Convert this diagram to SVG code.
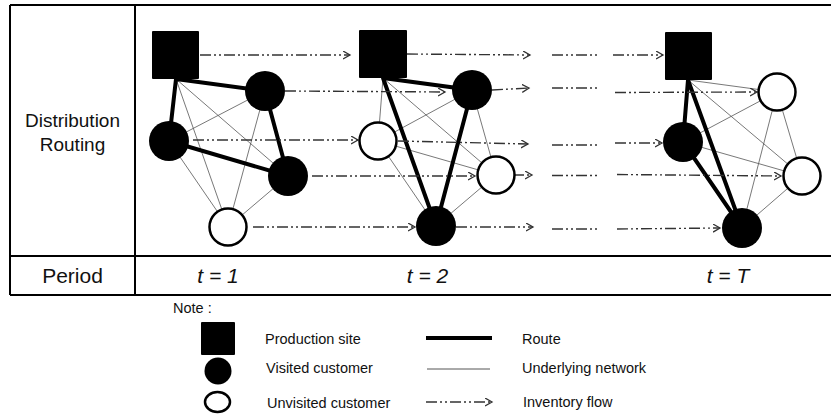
<svg xmlns="http://www.w3.org/2000/svg" width="831" height="418" viewBox="0 0 831 418">
<defs>
<style>
.frame{stroke:#000;stroke-width:2;fill:none}
.lbl{font-family:"Liberation Sans",Arial,sans-serif;fill:#111}
.hdr{font-size:19px;text-anchor:middle}
.per{font-size:21px;text-anchor:middle}
.it{font-size:21px;font-style:italic;text-anchor:middle}
.leg{font-size:14.5px}
.site{fill:#000}
.vis{fill:#000}
.unv{fill:#fff;stroke:#000;stroke-width:2.5}
.route{stroke:#000;stroke-width:4;stroke-linecap:round;fill:none}
.net{stroke:#555;stroke-width:0.8;fill:none}
.flow{stroke:#333;stroke-width:1.4;stroke-dasharray:11 3 2 3 2 3;fill:none}
.flowA{stroke:#333;stroke-width:1.4;stroke-dasharray:11 3 2 3 2 3;fill:none;marker-end:url(#arr)}
</style>
<marker id="arr" markerWidth="10" markerHeight="10" refX="7" refY="4" orient="auto" markerUnits="userSpaceOnUse">
<path d="M0,0 L7,4 L0,8" fill="none" stroke="#333" stroke-width="1.3" stroke-dasharray="none"/>
</marker>
</defs>
<rect width="831" height="418" fill="#fff"/>

<g id="table">
<path class="frame" d="M10,5 H831 M10,256 H831 M10,295 H831 M10,5 V295 M135,5 V295"/>
<text class="lbl hdr" x="72.5" y="127">Distribution</text>
<text class="lbl hdr" x="72.5" y="151">Routing</text>
<text class="lbl per" x="72.5" y="283">Period</text>
<text class="lbl it" x="218" y="283">t = 1</text>
<text class="lbl it" x="427.5" y="283">t = 2</text>
<text class="lbl it" x="728" y="283">t = T</text>
</g>

<g id="connectors">
<g id="network">
<!-- t=1 -->
<line class="net" x1="176" y1="79" x2="288" y2="176"/>
<line class="net" x1="176" y1="79" x2="228" y2="227"/>
<line class="net" x1="169" y1="141" x2="265" y2="91"/>
<line class="net" x1="169" y1="141" x2="228" y2="227"/>
<line class="net" x1="265" y1="91" x2="228" y2="227"/>
<line class="net" x1="288" y1="176" x2="228" y2="227"/>
<!-- t=2 -->
<line class="net" x1="383" y1="78" x2="378" y2="141"/>
<line class="net" x1="383" y1="78" x2="496" y2="175"/>
<line class="net" x1="378" y1="141" x2="472" y2="90"/>
<line class="net" x1="378" y1="141" x2="496" y2="175"/>
<line class="net" x1="378" y1="141" x2="436" y2="226"/>
<line class="net" x1="472" y1="90" x2="496" y2="175"/>
<line class="net" x1="496" y1="175" x2="436" y2="226"/>
<!-- t=T -->
<line class="net" x1="688" y1="80" x2="777" y2="92"/>
<line class="net" x1="688" y1="80" x2="802" y2="176"/>
<line class="net" x1="683" y1="142" x2="777" y2="92"/>
<line class="net" x1="683" y1="142" x2="802" y2="176"/>
<line class="net" x1="777" y1="92" x2="742" y2="228"/>
<line class="net" x1="777" y1="92" x2="802" y2="176"/>
<line class="net" x1="802" y1="176" x2="742" y2="228"/>
</g>
<g id="routes">
<polyline class="route" points="176,79 169,141 288,176 265,91 176,79"/>
<polyline class="route" points="383,78 436,226 472,90 383,78"/>
<polyline class="route" points="688,80 683,142 742,228 688,80"/>
</g>
<g id="flows">
<!-- t=1 to t=2 -->
<line class="flowA" x1="200" y1="55" x2="350" y2="55"/>
<line class="flowA" x1="285" y1="91" x2="445" y2="92"/>
<line class="flowA" x1="193" y1="140" x2="358" y2="140"/>
<line class="flowA" x1="312" y1="176" x2="475" y2="176"/>
<line class="flowA" x1="253" y1="227" x2="415" y2="227"/>
<!-- t=2 onward -->
<line class="flowA" x1="407" y1="54" x2="530" y2="55"/>
<line class="flowA" x1="492" y1="90" x2="529" y2="88"/>
<line class="flowA" x1="398" y1="141" x2="528" y2="144"/>
<line class="flowA" x1="513" y1="175" x2="532" y2="175"/>
<line class="flowA" x1="456" y1="227" x2="533" y2="227"/>
<!-- gap segments -->
<line class="flow" x1="552" y1="55" x2="598" y2="55"/>
<line class="flow" x1="552" y1="88" x2="598" y2="88"/>
<line class="flow" x1="552" y1="145" x2="598" y2="145"/>
<line class="flow" x1="552" y1="175.5" x2="598" y2="175.5"/>
<line class="flow" x1="552" y1="229" x2="598" y2="229"/>
<!-- into t=T -->
<line class="flowA" x1="613" y1="55" x2="663" y2="55"/>
<line class="flowA" x1="615" y1="92.5" x2="757" y2="92"/>
<line class="flowA" x1="615" y1="143" x2="662" y2="143"/>
<line class="flowA" x1="617" y1="174.5" x2="781" y2="176"/>
<line class="flowA" x1="617" y1="229" x2="720" y2="228"/>
</g>
</g>

<g id="t1-site"><rect class="site" x="152" y="31" width="47" height="48" rx="1"/></g>
<g id="t1-c1"><circle class="vis" cx="265" cy="91" r="20"/></g>
<g id="t1-c2"><circle class="vis" cx="169" cy="141" r="20"/></g>
<g id="t1-c3"><circle class="vis" cx="288" cy="176" r="20"/></g>
<g id="t1-c4"><circle class="unv" cx="228" cy="227" r="18.5"/></g>

<g id="t2-site"><rect class="site" x="359" y="30" width="48" height="48" rx="1"/></g>
<g id="t2-c1"><circle class="vis" cx="472" cy="90" r="20"/></g>
<g id="t2-c2"><circle class="unv" cx="378" cy="141" r="18.5"/></g>
<g id="t2-c3"><circle class="unv" cx="496" cy="175" r="18.5"/></g>
<g id="t2-c4"><circle class="vis" cx="436" cy="226" r="20"/></g>

<g id="tT-site"><rect class="site" x="665" y="32" width="47" height="48" rx="1"/></g>
<g id="tT-c1"><circle class="unv" cx="777" cy="92" r="18.5"/></g>
<g id="tT-c2"><circle class="vis" cx="683" cy="142" r="20"/></g>
<g id="tT-c3"><circle class="unv" cx="802" cy="176" r="18.5"/></g>
<g id="tT-c4"><circle class="vis" cx="742" cy="228" r="20"/></g>

<g id="legend">
<text class="lbl leg" x="173" y="313">Note :</text>
<rect class="site" x="201" y="322" width="34" height="33" rx="1"/>
<circle class="vis" cx="218" cy="371" r="13.5"/>
<ellipse class="unv" cx="217.5" cy="402" rx="12.5" ry="10"/>
<text class="lbl leg" x="265" y="344">Production site</text>
<text class="lbl leg" x="266" y="373">Visited customer</text>
<text class="lbl leg" x="267" y="408">Unvisited customer</text>
<line x1="426" y1="338" x2="492" y2="338" stroke="#000" stroke-width="4"/>
<line x1="427" y1="369" x2="490" y2="369" stroke="#555" stroke-width="1"/>
<line class="flowA" x1="426" y1="402" x2="492" y2="402"/>
<text class="lbl leg" x="522" y="344">Route</text>
<text class="lbl leg" x="522" y="373">Underlying network</text>
<text class="lbl leg" x="523" y="407">Inventory flow</text>
</g>
</svg>
